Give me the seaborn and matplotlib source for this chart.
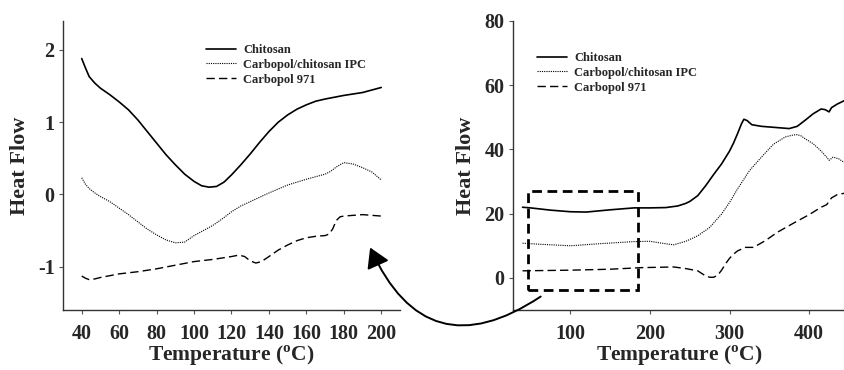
import numpy as np
import pandas as pd
import matplotlib
matplotlib.use("Agg")
import matplotlib.pyplot as plt
import seaborn as sns
from matplotlib.patches import Rectangle, FancyArrowPatch

# ---------------- data ----------------
series_names = ["Chitosan", "Carbopol/chitosan IPC", "Carbopol 971"]

# left panel (40-200 °C)
l_chit_T = [40, 42, 44, 47, 50, 55, 60, 65, 70, 75, 80, 85, 90, 95, 100, 104, 108, 112, 116, 120, 125, 130, 135, 140, 145, 150, 155, 160, 165, 170, 180, 190, 200]
l_chit_y = [1.88, 1.75, 1.63, 1.54, 1.47, 1.38, 1.28, 1.17, 1.03, 0.87, 0.71, 0.55, 0.41, 0.28, 0.18, 0.12, 0.10, 0.11, 0.17, 0.27, 0.41, 0.56, 0.72, 0.87, 1.00, 1.10, 1.18, 1.24, 1.29, 1.32, 1.37, 1.41, 1.48]

l_ipc_T = [40, 42, 44, 47, 50, 55, 60, 65, 70, 75, 80, 85, 90, 95, 100, 105, 110, 115, 120, 125, 130, 135, 140, 150, 160, 170, 173, 176, 180, 185, 190, 195, 200]
l_ipc_y = [0.23, 0.14, 0.08, 0.02, -0.03, -0.10, -0.19, -0.28, -0.38, -0.48, -0.56, -0.63, -0.67, -0.66, -0.57, -0.50, -0.43, -0.34, -0.24, -0.16, -0.10, -0.04, 0.02, 0.13, 0.21, 0.28, 0.32, 0.38, 0.44, 0.42, 0.37, 0.31, 0.20]

l_carb_T = [40, 42, 44, 47, 50, 60, 70, 80, 90, 100, 110, 120, 124, 127, 130, 133, 136, 140, 145, 150, 155, 160, 165, 170, 172, 174, 176, 178, 180, 190, 200]
l_carb_y = [-1.13, -1.16, -1.18, -1.17, -1.15, -1.10, -1.07, -1.03, -0.98, -0.93, -0.90, -0.86, -0.84, -0.86, -0.92, -0.95, -0.93, -0.86, -0.77, -0.70, -0.64, -0.60, -0.58, -0.57, -0.55, -0.48, -0.36, -0.31, -0.30, -0.28, -0.30]

# right panel (40-445 °C)
r_chit_T = [40, 50, 75, 100, 120, 150, 180, 200, 220, 235, 245, 250, 260, 270, 280, 290, 300, 305, 310, 315, 318, 322, 328, 340, 360, 375, 385, 395, 405, 415, 420, 425, 428, 435, 445]
r_chit_y = [22.0, 21.8, 21.1, 20.6, 20.5, 21.2, 21.8, 21.8, 21.9, 22.4, 23.2, 23.8, 25.6, 28.7, 32.2, 35.5, 39.5, 42.0, 44.9, 48.0, 49.4, 49.0, 47.7, 47.2, 46.8, 46.5, 47.2, 49.1, 51.1, 52.6, 52.4, 51.7, 53.0, 54.1, 55.3]

r_ipc_T = [40, 60, 100, 140, 180, 200, 215, 230, 245, 260, 275, 290, 300, 310, 325, 340, 355, 370, 380, 385, 390, 395, 405, 415, 422, 425, 430, 437, 445]
r_ipc_y = [10.8, 10.5, 10.0, 10.7, 11.3, 11.4, 10.8, 10.3, 11.4, 13.1, 15.7, 19.9, 23.5, 27.7, 33.4, 37.6, 41.6, 43.9, 44.5, 44.6, 44.2, 43.3, 41.8, 39.5, 37.6, 36.6, 37.6, 37.1, 35.8]

r_carb_T = [40, 100, 150, 190, 230, 245, 260, 265, 270, 275, 280, 285, 290, 295, 300, 305, 310, 320, 330, 345, 360, 380, 400, 415, 422, 428, 435, 445]
r_carb_y = [2.2, 2.4, 2.7, 3.2, 3.4, 2.9, 2.2, 1.4, 0.6, 0.2, 0.2, 0.8, 2.4, 4.4, 6.1, 7.4, 8.4, 9.5, 9.5, 11.6, 14.2, 17.0, 19.7, 22.0, 22.8, 24.9, 25.9, 26.4]

left_yticks = [-1, 0, 1, 2]
left_xticks = [40, 60, 80, 100, 120, 140, 160, 180, 200]
right_yticks = [0, 20, 40, 60, 80]
right_xticks = [100, 200, 300, 400]

# ---------------- style ----------------
sns.set_style("ticks")
plt.rcParams["font.family"] = ["Liberation Serif", "DejaVu Serif"]
plt.rcParams["font.weight"] = "bold"
plt.rcParams["axes.labelweight"] = "bold"
plt.rcParams["mathtext.fontset"] = "custom"
plt.rcParams["mathtext.rm"] = "Liberation Serif:bold"
plt.rcParams["mathtext.bf"] = "Liberation Serif:bold"
plt.rcParams["axes.unicode_minus"] = False

styles = {
    "Chitosan": dict(ls="-", lw=1.2),
    "Carbopol/chitosan IPC": dict(ls=(0, (1, 1)), lw=0.8),
    "Carbopol 971": dict(ls=(0, (6, 3)), lw=1.0),
}


def make_df(Ts, ys):
    frames = []
    for name, T, y in zip(series_names, Ts, ys):
        frames.append(pd.DataFrame({"T": T, "y": y, "series": name}))
    return pd.concat(frames, ignore_index=True)


df_left = make_df([l_chit_T, l_ipc_T, l_carb_T], [l_chit_y, l_ipc_y, l_carb_y])
df_right = make_df([r_chit_T, r_ipc_T, r_carb_T], [r_chit_y, r_ipc_y, r_carb_y])

fig = plt.figure(figsize=(8.45, 3.70), dpi=100)
ax1 = fig.add_axes([63 / 845, 60 / 370, 337 / 845, 289 / 370])
ax2 = fig.add_axes([513 / 845, 60 / 370, 332 / 845, 289 / 370])


def draw(ax, df):
    for name in series_names:
        sub = df[df["series"] == name]
        sns.lineplot(data=sub, x="T", y="y", ax=ax, color="black",
                     label=name, sort=False, estimator=None, **styles[name])


draw(ax1, df_left)
draw(ax2, df_right)

ax1.set_xlim(30, 210)
ax1.set_ylim(-1.6, 2.4)
ax1.set_xticks(left_xticks)
ax1.set_yticks(left_yticks)
ax1.set_yticklabels([str(v) for v in left_yticks])

ax2.set_xlim(28, 445)
ax2.set_ylim(-10, 80)
ax2.set_xticks(right_xticks)
ax2.set_yticks(right_yticks)

xlabel = r"Temperature ($^{\rm o}$C)"
for ax in (ax1, ax2):
    sns.despine(ax=ax)
    for s in ("left", "bottom"):
        ax.spines[s].set_color("#333333")
        ax.spines[s].set_linewidth(1.0)
    ax.tick_params(axis="y", length=3, width=0.8, color="#555555", pad=3, labelsize=14.5)
    ax.tick_params(axis="x", length=3, width=0.8, color="#555555", pad=7, labelsize=14.5)
    for lab in ax.get_xticklabels() + ax.get_yticklabels():
        lab.set_fontweight("bold")
    ax.set_xlabel(xlabel, fontsize=15.5, fontweight="bold", labelpad=0)
    ax.set_ylabel("Heat Flow", fontsize=16, fontweight="bold", labelpad=6)

leg_kw = dict(frameon=False, loc="upper left", handlelength=2.4, handletextpad=0.6,
              labelspacing=0.22, prop={"family": "Liberation Serif", "weight": "bold", "size": 9},
              borderaxespad=0, borderpad=0)
ax1.legend(bbox_to_anchor=(206 / 845, 1 - 44 / 370), bbox_transform=fig.transFigure, **leg_kw)
ax2.legend(bbox_to_anchor=(537 / 845, 1 - 52 / 370), bbox_transform=fig.transFigure, **leg_kw)

# dashed zoom box on right panel
ax2.add_patch(Rectangle((47, -3.7), 138.5, 30.7, fill=False, ls=(0, (3.5, 2)), lw=2,
                        edgecolor="black", zorder=5, clip_on=False))

# curved arrow from box to left panel
arrow = FancyArrowPatch((543 / 845, 75 / 370), (369 / 845, 125 / 370),
                        transform=fig.transFigure, connectionstyle="arc3,rad=-0.6",
                        arrowstyle="-|>,head_length=0.5,head_width=0.3", mutation_scale=24,
                        lw=1.4, color="black")
fig.patches.append(arrow)

fig.savefig("out.png", dpi=100)
